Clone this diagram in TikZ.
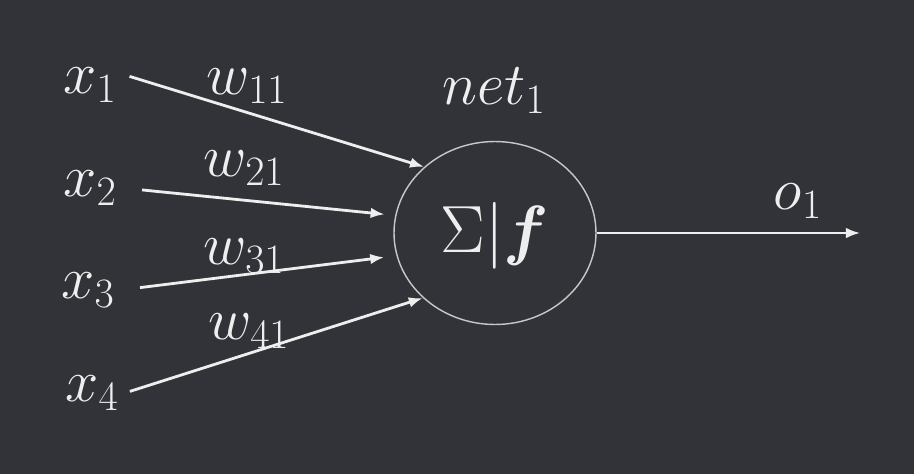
\RequirePackage{fix-cm}
\documentclass[tikz,border=0pt]{standalone}
\usepackage{amsmath,bm}
\usetikzlibrary{arrows.meta,shapes.geometric}

\definecolor{slate}{RGB}{50,51,57}
\definecolor{chalk}{RGB}{238,238,238}
\definecolor{rim}{RGB}{200,200,200}

\begin{document}
\begin{tikzpicture}[
x=0.02cm,
y=-0.02cm,
every node/.style={text=chalk,font=\fontsize{34}{40}\selectfont},
wire/.style={chalk,line width=1.6pt,-{Latex[length=8pt,width=6pt]}},
]
\fill[slate] (0,0) rectangle (914,474);
\useasboundingbox (0,0) rectangle (914,474);

\node[draw=rim,line width=0.8pt,ellipse,minimum width=4.04cm,minimum height=3.66cm] (sum) at (495,233) {};
\node[font=\fontsize{38}{44}\selectfont] (sumlbl) at (495,236) {$\Sigma|\bm{f}$};

\node (x1) at (90,85) {$x_1$};
\node (x2) at (90,188) {$x_2$};
\node (x3) at (88,290) {$x_3$};
\node (x4) at (92,393) {$x_4$};

\node (w11) at (247,86) {$w_{11}$};
\node (w21) at (244,168) {$w_{21}$};
\node (w31) at (244,256) {$w_{31}$};
\node (w41) at (249,331) {$w_{41}$};

\node (net) at (494,91) {$net_1$};
\node (o1) at (798,201) {$o_1$};
\coordinate (out) at (860,233);

\draw[wire,shorten <=4pt] (x1.18) -- (sum.137);
\draw[wire,shorten <=11pt,shorten >=6pt] (x2.east) -- (sum.170);
\draw[wire,shorten <=11pt,shorten >=7pt] (x3.east) -- (sum.193);
\draw[wire,shorten <=3pt] (x4.east) -- (sum.222);
\draw[wire,line width=1.1pt] (sum.east) -- (out);
\end{tikzpicture}
\end{document}
